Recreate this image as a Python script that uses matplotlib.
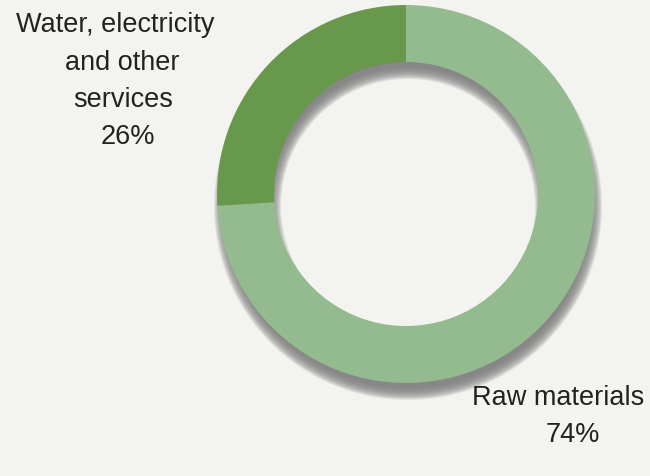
import numpy as np
import matplotlib
matplotlib.use("Agg")
import matplotlib.pyplot as plt
from matplotlib.patches import Wedge

# data
labels = ["Water, electricity\nand other\nservices", "Raw materials"]
shares = [26, 74]
colors = ["#67984c", "#94bb8f"]

plt.rcParams['font.family'] = ['Liberation Sans', 'DejaVu Sans']

fig = plt.figure(figsize=(6.5, 4.77), dpi=100)
fig.patch.set_facecolor("#f3f4f0")
ax = fig.add_axes([0, 0, 1, 1])
ax.set_facecolor("#f3f4f0")

cx, cy = 406, 282
r_out, r_in = 189, 132

# soft drop shadow (stacked translucent rings)
for s in np.linspace(-7, 5, 14):
    ax.add_patch(Wedge((cx + 2, cy - 12), r_out + s, 0, 360,
                       width=(r_out - r_in) + 2 * s,
                       facecolor="#7e7e7e", edgecolor="none", alpha=0.15, zorder=1))

wedges, _ = ax.pie(shares, colors=colors, startangle=90, counterclock=True,
                   center=(cx, cy), radius=r_out,
                   wedgeprops=dict(width=r_out - r_in, edgecolor="none"))
for w in wedges:
    w.set_zorder(2)

ax.set_xlim(0, 650)
ax.set_ylim(0, 477)
ax.set_aspect("equal")
ax.axis("off")

# labels
txt = dict(fontsize=19.5, color="#222222", ha="center", va="center", zorder=3)
xs = [115, 122, 123, 128]
for i, line in enumerate(labels[0].split("\n") + [f"{shares[0]}%"]):
    ax.text(xs[i], 477 - 25 - 37.5 * i, line, **txt)
ax.text(558, 477 - 398, labels[1], **txt)
ax.text(573, 477 - 435, f"{shares[1]}%", **txt)

fig.savefig("out.png", dpi=100, facecolor=fig.get_facecolor())
